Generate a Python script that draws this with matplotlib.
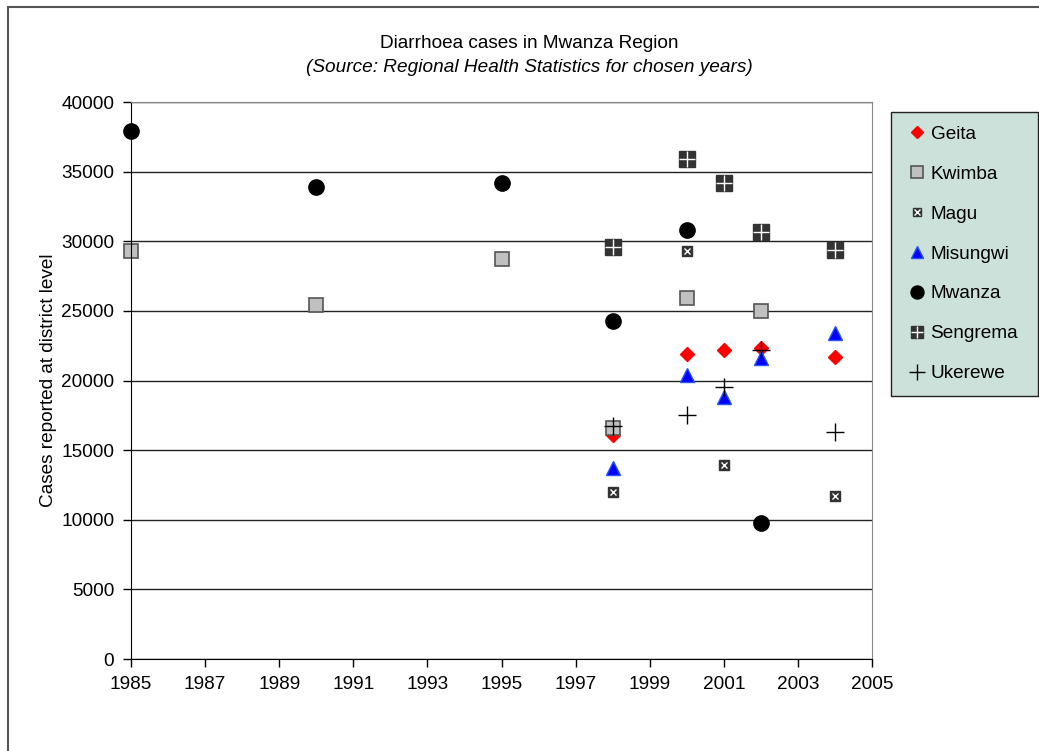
import matplotlib.pyplot as plt
from matplotlib.patches import Rectangle
from matplotlib.legend_handler import HandlerTuple

plt.rcParams['font.family'] = ['Liberation Sans', 'DejaVu Sans']

# values
geita_years = [1998, 2000, 2001, 2002, 2004]
geita_cases = [16100, 21900, 22200, 22300, 21700]

kwimba_years = [1985, 1990, 1995, 1998, 2000, 2002]
kwimba_cases = [29300, 25400, 28700, 16600, 25900, 25000]

magu_years = [1998, 2000, 2001, 2004]
magu_cases = [12000, 29300, 13900, 11700]

misungwi_years = [1998, 2000, 2001, 2002, 2004]
misungwi_cases = [13700, 20400, 18800, 21600, 23400]

mwanza_years = [1985, 1990, 1995, 1998, 2000, 2002]
mwanza_cases = [37900, 33900, 34200, 24300, 30800, 9800]

sengrema_years = [1998, 2000, 2001, 2002, 2004]
sengrema_cases = [29600, 35900, 34200, 30700, 29400]

ukerewe_years = [1998, 2000, 2001, 2002, 2004]
ukerewe_cases = [16700, 17500, 19500, 22200, 16300]

W, H = 1039, 751
FS = 13.7
fig = plt.figure(figsize=(W / 100, H / 100), dpi=100)

# outer chart frame
fig.patches.append(Rectangle((8 / W, -0.01), 1.1, (H - 7) / H + 0.01,
                             transform=fig.transFigure, fill=False,
                             edgecolor='#555555', lw=1.5))

ax = fig.add_axes([131 / W, 92 / H, 741 / W, 557 / H])

kw = dict(ls='', clip_on=False)
h_geita, = ax.plot(geita_years, geita_cases, 'D', ms=7.5, color='#ff0000', **kw)
h_kwimba, = ax.plot(kwimba_years, kwimba_cases, 's', ms=10, mfc='#c0c0c0',
                    mec='#555555', mew=1.2, **kw)
m1, = ax.plot(magu_years, magu_cases, 's', ms=6.5, color='#333333', **kw)
m2, = ax.plot(magu_years, magu_cases, 'x', ms=4.5, mew=1.0, color='white', **kw)
h_misungwi, = ax.plot(misungwi_years, misungwi_cases, '^', ms=10.5, mfc='#0000ff',
                      mec='#2255ff', **kw)
h_mwanza, = ax.plot(mwanza_years, mwanza_cases, 'o', ms=11, color='black', **kw)
s1, = ax.plot(sengrema_years, sengrema_cases, 's', ms=11, color='#333333', **kw)
s2, = ax.plot(sengrema_years, sengrema_cases, '+', ms=11, mew=1.0, color='white', **kw)
h_ukerewe, = ax.plot(ukerewe_years, ukerewe_cases, '+', ms=13, mew=1.0, color='black', **kw)

ax.set_xlim(1985, 2005)
ax.set_ylim(0, 40000)
ax.set_xticks(range(1985, 2006, 2))
ax.set_yticks(range(0, 40001, 5000))
ax.tick_params(labelsize=FS, direction='out', length=6, width=1, pad=6)
ax.yaxis.grid(True, color='#222222', lw=1)
ax.set_axisbelow(True)
for s in ['top', 'right']:
    ax.spines[s].set_color('#888888')
ax.spines['left'].set_color('black')
ax.spines['bottom'].set_color('black')

ax.set_ylabel('Cases reported at district level', fontsize=FS, labelpad=3)

fig.text(529 / W, 1 - 44 / H, 'Diarrhoea cases in Mwanza Region',
         ha='center', va='center', fontsize=FS)
fig.text(529 / W, 1 - 67 / H, '(Source: Regional Health Statistics for chosen years)',
         ha='center', va='center', fontsize=FS, style='italic')

handles = [h_geita, h_kwimba, (m1, m2), h_misungwi, h_mwanza, (s1, s2), h_ukerewe]
labels = ['Geita', 'Kwimba', 'Magu', 'Misungwi', 'Mwanza', 'Sengrema', 'Ukerewe']
leg = fig.legend(handles, labels, loc='upper left', mode='expand',
                 bbox_to_anchor=(891 / W, 1 - 390 / H, 147 / W, 278 / H),
                 handler_map={tuple: HandlerTuple(ndivide=1, pad=0)},
                 fontsize=FS, frameon=True, fancybox=False, framealpha=1,
                 facecolor='#cce1d9', edgecolor='#222222',
                 labelspacing=1.19, handlelength=1.3, handletextpad=0.08,
                 borderpad=0.7, borderaxespad=0, markerscale=0.85)
leg.get_frame().set_linewidth(1.0)

fig.savefig('out.png', dpi=100)
